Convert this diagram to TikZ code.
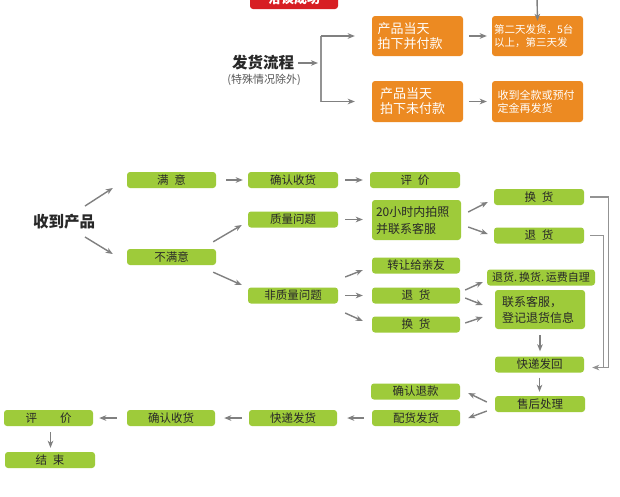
\documentclass[tikz,border=0pt]{standalone}
\usepackage{fontspec}
\setmainfont{Noto Sans CJK SC}
\usetikzlibrary{arrows.meta}
\definecolor{gfill}{RGB}{158,203,58}
\definecolor{ofill}{RGB}{236,138,34}
\definecolor{rfill}{RGB}{215,30,35}
\definecolor{agray}{RGB}{128,128,128}
\definecolor{gtext}{RGB}{40,40,40}
\begin{document}
\begin{tikzpicture}[x=1pt,y=-1pt,
  gbox/.style={rounded corners=3pt, fill=gfill, inner sep=0pt, minimum width=89pt, minimum height=16pt, text=gtext, font=\fontsize{11.5}{13}\selectfont},
  obox/.style={rounded corners=3pt, fill=ofill, inner sep=0pt, minimum width=91pt, minimum height=40pt, text=white, align=left},
  arr/.style={draw=agray, line width=1.4pt, -{Stealth[length=7pt,width=5.5pt,inset=2pt]}},
  gline/.style={draw=agray!85, line width=1.2pt}]
\clip (0,0) rectangle (620,496);
\useasboundingbox (0,0) rectangle (620,496);
\fill[white] (0,0) rectangle (620,496);

% top part
\node[rounded corners=3pt, fill=rfill, minimum width=88pt, minimum height=20pt, inner sep=0pt, text=white, font=\bfseries\fontsize{13}{15}\selectfont] (red) at (294,-1) {洽谈成功};
\node[obox, text width=80pt, font=\fontsize{13}{15}\selectfont] (o1) at (417.5,36) {产品当天\\拍下并付款};
\node[obox, text width=87pt, font=\fontsize{10.5}{12.5}\selectfont] (o2) at (537.5,36) {第二天发货，5台\\以上，第三天发};
\node[obox, minimum height=41pt, text width=75pt, font=\fontsize{13}{15}\selectfont] (o3) at (417.5,101.5) {产品当天\\拍下未付款};
\node[obox, minimum height=41pt, text width=80pt, font=\fontsize{11}{13}\selectfont] (o4) at (537.5,101.5) {收到全款或预付\\定金再发货};
\node[inner sep=0pt, text=gtext, font=\bfseries\fontsize{15.5}{17}\selectfont] (fhlc) at (263,63) {发货流程};
\node[inner sep=0pt, text=black!65, font=\fontsize{11}{13}\selectfont] (tsqk) at (264,80) {(特殊情况除外)};
\coordinate (topin) at (537,-3);
\coordinate (br) at (321,63);

\draw[arr] (topin) -- ([yshift=-5pt]o2.north);
\draw[arr, shorten <=4pt, shorten >=3pt] (fhlc.east) -- (br);
\draw[gline] (br |- o1) -- (br |- o3);
\draw[arr, shorten >=17pt] (br |- o1) -- (o1.west);
\draw[arr, shorten >=17pt] (br |- o3) -- (o3.west);
\draw[arr, shorten <=6pt, shorten >=5pt] (o1.east) -- (o2.west);
\draw[arr, shorten <=6pt, shorten >=5pt] (o3.east) -- (o4.west);

% receive product
\node[inner sep=0pt, text=gtext, font=\bfseries\fontsize{15.5}{17}\selectfont] (srp) at (64,222) {收到产品};
\node[gbox] (man) at (171.5,180) {满\hspace{0.5em}意};
\node[gbox] (bmy) at (171.5,257) {不满意};
\node[gbox, minimum width=90pt] (qr1) at (293,180) {确认收货};
\node[gbox, minimum width=90pt] (zlwt) at (293,219.5) {质量问题};
\node[gbox, minimum width=90pt] (fzl) at (293,295.5) {非质量问题};
\node[gbox, minimum width=90pt] (pj1) at (415,180) {评\hspace{0.5em}价};
\node[gbox, minimum height=40pt, text width=81pt, align=left, font=\fontsize{12}{17}\selectfont] (h20) at (416.5,220) {20小时内拍照\\并联系客服};
\node[gbox, minimum width=90pt] (hh1) at (539,197) {换\hspace{0.5em}货};
\node[gbox, minimum width=90pt] (th1) at (539,235.5) {退\hspace{0.5em}货};
\node[gbox, minimum width=88pt] (zr) at (416,265.5) {转让给亲友};
\node[gbox, minimum width=88pt] (th2) at (416,295.5) {退\hspace{0.5em}货};
\node[gbox, minimum width=88pt] (hh2) at (416,324.5) {换\hspace{0.5em}货};
\node[gbox, minimum width=108pt, font=\fontsize{11}{13}\selectfont] (yf) at (541,277.5) {退货.\,换货.\,运费自理};
\node[gbox, minimum width=90pt, minimum height=39pt, text width=76pt, align=left, font=\fontsize{12}{16}\selectfont] (lx) at (540,309.5) {联系客服，\\登记退货信息};
\node[gbox] (kdfh) at (539.5,364.5) {快递发回};
\node[gbox, minimum width=90pt] (shcl) at (540,404) {售后处理};
\node[gbox] (qrtk) at (415.5,391.5) {确认退款};
\node[gbox, minimum width=88pt] (phfh) at (416,418) {配货发货};
\node[gbox, minimum width=88pt] (kdfh2) at (293,418) {快递发货};
\node[gbox, minimum width=88pt] (qr2) at (171,418) {确认收货};
\node[gbox] (pj2) at (48.5,418) {评\hspace{2em}价};
\node[gbox, minimum width=90pt] (js) at (50,460) {结\hspace{0.5em}束};

% arrows
\draw[arr] ([shift={(21,-16)}]srp.center) -- ([shift={(-14,8)}]man.west);
\draw[arr] ([shift={(21,15)}]srp.center) -- ([shift={(-14,-3)}]bmy.west);
\draw[arr, shorten <=10pt, shorten >=5pt] (man.east) -- (qr1.west);
\draw[arr] ([shift={(-3,-7)}]bmy.north east) -- ([shift={(-6,5.5)}]zlwt.west);
\draw[arr] ([shift={(-3,7)}]bmy.south east) -- ([shift={(-6,-10.5)}]fzl.west);
\draw[arr, shorten <=7pt, shorten >=7pt] (qr1.east) -- (pj1.west);
\draw[arr, shorten <=7pt, shorten >=9pt] (zlwt.east) -- (zlwt.east -| h20.west);
\draw[arr] ([shift={(7,-8)}]h20.east) -- ([shift={(-6,5)}]hh1.west);
\draw[arr] ([shift={(7,7)}]h20.east) -- ([shift={(-6,-1.5)}]th1.west);
\draw[arr, draw=agray!85, line width=1.2pt] ([xshift=6pt]hh1.east) -- ++(18,0) |- ([shift={(8,3)}]kdfh.east);
\draw[gline] ([xshift=6pt]th1.east) -- ++(13,0) |- ([shift={(19,3)}]kdfh.east);
\draw[arr] ([shift={(7,-18.5)}]fzl.east) -- ([shift={(-9,4.5)}]zr.west);
\draw[arr, shorten <=7pt, shorten >=9pt] (fzl.east) -- (th2.west);
\draw[arr] ([shift={(7,17.5)}]fzl.east) -- ([shift={(-9,-3.5)}]hh2.west);
\draw[arr] ([shift={(5,-5.5)}]th2.east) -- ([shift={(-4,4.5)}]yf.west);
\draw[arr] ([shift={(5,2.5)}]th2.east) -- ([shift={(-12,-4.5)}]lx.west);
\draw[arr] ([shift={(5,-1.5)}]hh2.east) -- ([shift={(-12,7.5)}]lx.west);
\draw[arr, shorten <=6pt, shorten >=5pt] (lx.south) -- (lx.south |- kdfh.north);
\draw[arr, shorten <=5pt, shorten >=4pt] (kdfh.south) -- (kdfh.south |- shcl.north);
\draw[arr] ([shift={(-8,-2)}]shcl.west) -- ([shift={(8,1.5)}]qrtk.east);
\draw[arr] ([shift={(-8,7)}]shcl.west) -- ([xshift=8pt]phfh.east);
\draw[arr, shorten <=8pt, shorten >=10pt] (phfh.west) -- (kdfh2.east);
\draw[arr, shorten <=7pt, shorten >=9pt] (kdfh2.west) -- (qr2.east);
\draw[arr, shorten <=10pt, shorten >=6pt] (qr2.west) -- (pj2.east);
\draw[arr, shorten <=6pt, shorten >=4pt] ([xshift=2pt]pj2.south) -- ([xshift=2pt]pj2.south |- js.north);
\end{tikzpicture}
\end{document}
